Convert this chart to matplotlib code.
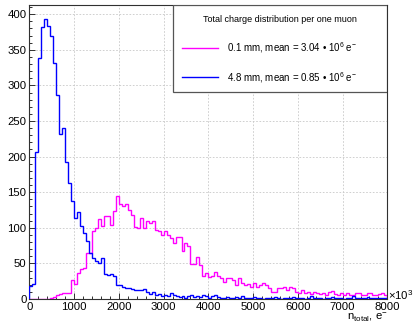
import matplotlib
matplotlib.use("Agg")
import matplotlib.pyplot as plt
import numpy as np
from matplotlib.lines import Line2D
from matplotlib.patches import Rectangle
from matplotlib.ticker import MultipleLocator

plt.rcParams.update(
    {
        "font.family": "Liberation Sans",
        "mathtext.fontset": "custom",
        "mathtext.rm": "Liberation Sans",
        "mathtext.it": "Liberation Sans:italic",
    }
)

# histogram range (in units of 10^3 electrons) and binning
X_RANGE = (0, 8000)
N_BINS = 120

# entries per bin, 0.1 mm layer
thin_counts = [
    0, 0, 0, 0, 0, 0, 0, 2, 3, 5, 7, 8, 8, 8, 27, 21, 36, 42, 43, 65,
    64, 96, 100, 113, 103, 116, 117, 104, 124, 144, 133, 130, 134, 125, 118, 101, 100, 114, 100, 110,
    107, 110, 97, 96, 90, 95, 90, 85, 78, 87, 87, 67, 78, 74, 49, 49, 59, 48, 32, 36,
    31, 33, 38, 33, 29, 24, 29, 29, 26, 20, 30, 22, 20, 21, 17, 22, 17, 20, 23, 20,
    15, 10, 10, 15, 15, 17, 13, 17, 15, 10, 8, 12, 9, 10, 7, 10, 8, 7, 9, 6,
    10, 11, 7, 6, 9, 5, 8, 6, 5, 9, 8, 5, 5, 8, 9, 6, 5, 7, 9, 6,
]

# entries per bin, 4.8 mm layer
thick_counts = [
    18, 21, 207, 338, 382, 393, 384, 369, 331, 286, 232, 240, 193, 163, 137, 114, 122, 103, 92, 81,
    64, 58, 53, 50, 57, 35, 34, 35, 33, 20, 20, 17, 16, 16, 14, 12, 13, 12, 14, 10,
    7, 10, 5, 7, 4, 6, 4, 9, 6, 4, 3, 4, 2, 4, 5, 3, 4, 3, 5, 4,
    2, 4, 5, 3, 1, 2, 3, 2, 1, 3, 2, 4, 1, 2, 1, 3, 1, 2, 0, 1,
    2, 1, 3, 1, 0, 2, 1, 2, 3, 1, 1, 2, 0, 1, 4, 1, 2, 1, 0, 2,
    1, 3, 1, 2, 1, 0, 2, 1, 4, 1, 1, 2, 1, 3, 1, 1, 2, 1, 2, 1,
]

MEAN_THIN = 3.04
MEAN_THICK = 0.85

COLORS = {"thin": "#ff00ff", "thick": "#0000ff", "grid": "#c8c8c8", "frame": "#303030"}

edges = np.linspace(*X_RANGE, N_BINS + 1)

fig = plt.figure(figsize=(4.13, 3.25), dpi=100)
ax = fig.add_axes([0.071, 0.080, 0.867, 0.904])

ax.stairs(thin_counts, edges, color=COLORS["thin"], lw=1.0, zorder=3)
ax.stairs(thick_counts, edges, color=COLORS["thick"], lw=1.0, zorder=3)

ax.set_xlim(*X_RANGE)
ax.set_ylim(0, 1.05 * max(max(thin_counts), max(thick_counts)))

ax.xaxis.set_major_locator(MultipleLocator(1000))
ax.xaxis.set_minor_locator(MultipleLocator(200))
ax.yaxis.set_major_locator(MultipleLocator(50))
ax.yaxis.set_minor_locator(MultipleLocator(10))
ax.tick_params(which="both", direction="in", colors=COLORS["frame"], labelcolor="black",
               labelsize=8.2, top=False, right=False)
ax.tick_params(which="major", length=4.4, width=0.7)
ax.tick_params(which="minor", length=2.2, width=0.7)
ax.tick_params(axis="x", pad=2.5)
ax.tick_params(axis="y", pad=2.0)
ax.grid(True, which="major", color=COLORS["grid"], lw=0.6, ls=(0, (2, 2)))
for spine in ax.spines.values():
    spine.set_color(COLORS["frame"])
    spine.set_linewidth(0.8)

ax.text(1.0, -0.058, r"n$_{\mathrm{total}}$, e$^{-}$", transform=ax.transAxes,
        ha="right", va="center", fontsize=8.2)
ax.text(1.002, 0.012, r"$\times$10$^{3}$", transform=ax.transAxes,
        ha="left", va="center", fontsize=8.2)

# legend pave in the top right corner
ax.add_patch(Rectangle((0.402, 0.706), 0.598, 0.294, transform=ax.transAxes,
                       facecolor="white", edgecolor="#555555", lw=0.9, zorder=5))
ax.text(0.700, 0.953, "Total charge distribution per one muon", transform=ax.transAxes,
        ha="center", va="center", fontsize=6.5, zorder=6)
entries = [
    (0.854, COLORS["thin"], f"0.1 mm, mean = {MEAN_THIN:.2f} \u2022 10$^{{6}}$ e$^{{-}}$"),
    (0.755, COLORS["thick"], f"4.8 mm, mean = {MEAN_THICK:.2f} \u2022 10$^{{6}}$ e$^{{-}}$"),
]
for y, color, label in entries:
    ax.add_line(Line2D([0.426, 0.528], [y, y], transform=ax.transAxes, color=color, lw=1.0, zorder=6))
    ax.text(0.551, y, label, transform=ax.transAxes, ha="left", va="center", fontsize=7.0, zorder=6)

fig.savefig("out.png", dpi=100)
